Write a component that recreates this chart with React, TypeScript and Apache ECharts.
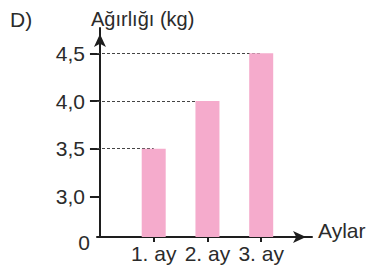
import React, { useEffect, useRef } from "react";
import * as echarts from "echarts";

const categories = ["1. ay", "2. ay", "3. ay"];
const categoryPositions = [1, 2, 3];
const weights = [3.5, 4.0, 4.5];
const yTickValues = [0, 3.0, 3.5, 4.0, 4.5];
const yTickLabels = ["0", "3,0", "3,5", "4,0", "4,5"];

// broken y scale: 0 .. 3.0 compressed, then 1 unit per 0.5 kg
const BREAK_START = 3.0;
const BREAK_SPAN = 0.85;
const STEP = 0.5;
const toDisplay = (v: number) => (v <= 0 ? 0 : BREAK_SPAN + (v - BREAK_START) / STEP);

const X_MIN = -0.055;
const X_MAX = 3.945;

const FONT = "'Liberation Sans', Arial, Helvetica, sans-serif";
const TEXT = "#2b2b2b";
const AXIS = "#1e1e1e";

export default function App() {
  const ref = useRef<HTMLDivElement>(null);
  useEffect(() => {
    if (!ref.current) return;
    const chart = echarts.init(ref.current, null, { renderer: "svg" });
    const yDisp = yTickValues.map(toDisplay);
    const yMax = toDisplay(4.5) + 0.53;
    const labelFor = (val: number) => {
      const i = yDisp.findIndex((d) => Math.abs(d - val) < 1e-6);
      if (i < 0) return "";
      return i === 0 ? "{zero|" + yTickLabels[i] + "}" : yTickLabels[i];
    };
    chart.setOption({
      animation: false,
      grid: { left: 97, right: 58, top: 28, bottom: 28, containLabel: false },
      graphic: [
        {
          type: "text",
          left: 10,
          top: 9,
          style: { text: "D)", fontFamily: FONT, fontSize: 21, fill: TEXT },
        },
        {
          type: "text",
          left: 91,
          top: 9,
          style: { text: "Ağırlığı (kg)", fontFamily: FONT, fontSize: 20, fill: TEXT },
        },
      ],
      xAxis: {
        type: "value",
        min: X_MIN,
        max: X_MAX,
        splitLine: { show: false },
        name: "{n|Aylar}",
        nameLocation: "end",
        nameGap: 6,
        nameTextStyle: {
          fontFamily: FONT,
          fontSize: 21,
          color: TEXT,
          rich: {
            n: {
              fontFamily: FONT,
              fontSize: 21,
              color: TEXT,
              padding: [0, 0, 13, 0],
            },
          },
        },
        axisLine: {
          show: true,
          symbol: ["none", "arrow"],
          symbolSize: [9, 13],
          symbolOffset: [0, -6],
          lineStyle: { color: AXIS, width: 2 },
        },
        axisTick: {
          show: true,
          customValues: categoryPositions,
          length: 5,
          lineStyle: { color: AXIS, width: 2 },
        },
        axisLabel: {
          customValues: categoryPositions,
          formatter: (v: number) => {
            const i = categoryPositions.indexOf(Math.round(v));
            return i >= 0 && Math.abs(v - categoryPositions[i]) < 1e-6 ? categories[i] : "";
          },
          fontFamily: FONT,
          fontSize: 21,
          color: TEXT,
          margin: 6,
        },
      },
      yAxis: [
        {
          type: "value",
          min: 0,
          max: yMax,
          splitLine: { show: false },
          axisLine: {
            show: true,
            symbol: ["none", "arrow"],
            symbolSize: [9, 13],
            symbolOffset: [0, -6],
            lineStyle: { color: AXIS, width: 2 },
          },
          axisTick: {
            show: true,
            customValues: yDisp.slice(1),
            length: 10,
            lineStyle: { color: AXIS, width: 2 },
          },
          axisLabel: {
            customValues: yDisp,
            formatter: labelFor,
            fontFamily: FONT,
            fontSize: 21,
            color: TEXT,
            margin: 12,
            rich: {
              zero: {
                fontFamily: FONT,
                fontSize: 21,
                color: TEXT,
                padding: [10, -5, 0, 0],
              },
            },
          },
        },
        {
          type: "value",
          min: 0,
          max: yMax,
          position: "left",
          offset: 0,
          splitLine: { show: false },
          axisLine: { show: false },
          axisLabel: { show: false },
          axisTick: {
            show: true,
            inside: true,
            customValues: yDisp.slice(1),
            length: 3,
            lineStyle: { color: AXIS, width: 2 },
          },
        },
      ],
      series: [
        {
          type: "bar",
          z: 2,
          barWidth: 24,
          itemStyle: { color: "#f5abcc" },
          data: weights.map((w, i) => [categoryPositions[i], toDisplay(w)]),
          markLine: {
            z: 1,
            silent: true,
            symbol: ["none", "none"],
            label: { show: false },
            lineStyle: { color: "#444", width: 1, type: [3, 2] },
            data: weights.map((w, i) => [
              { coord: [X_MIN, toDisplay(w)] },
              { coord: [categoryPositions[i], toDisplay(w)] },
            ]),
          },
        },
      ],
    });
    return () => chart.dispose();
  }, []);
  return (
    <div
      ref={ref}
      style={{ position: "fixed", left: 0, top: 0, width: 370, height: 265, background: "#fff" }}
    />
  );
}
